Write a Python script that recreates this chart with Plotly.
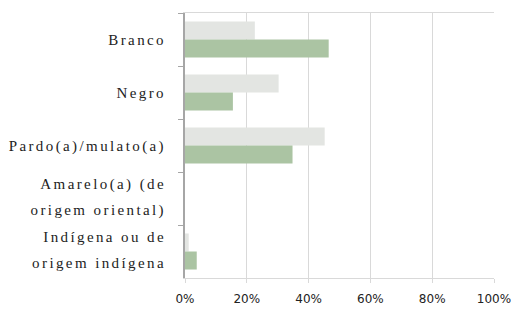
import plotly.graph_objects as go

categories = ["Branco", "Negro", "Pardo(a)/mulato(a)", "Amarelo(a) (de<br>origem oriental)", "Indígena ou de<br>origem indígena"]
series_a = [22.6, 30.3, 45.2, 0.0, 1.2]
series_b = [46.5, 15.5, 34.8, 0.0, 3.8]
x_ticks = [0, 20, 40, 60, 80, 100]
x_ticktext = ["0%", "20%", "40%", "60%", "80%", "100%"]

fig = go.Figure()
fig.add_trace(go.Bar(y=categories, x=series_a, orientation="h",
                     marker=dict(color="#e3e5e2", line=dict(width=0)), name="A"))
fig.add_trace(go.Bar(y=categories, x=series_b, orientation="h",
                     marker=dict(color="#abc4a3", line=dict(width=0)), name="B"))

fig.update_layout(
    width=511, height=310,
    margin=dict(l=185, r=17, t=13, b=32, autoexpand=False),
    paper_bgcolor="white", plot_bgcolor="white",
    barmode="group", bargap=0.32, bargroupgap=0.0,
    showlegend=False,
    xaxis=dict(range=[0, 100], tickvals=x_ticks, ticktext=x_ticktext,
               showgrid=True, gridcolor="#d9d9d9", gridwidth=1,
               showline=True, linecolor="#d9d9d9", linewidth=1, mirror=True,
               ticks="outside", ticklen=4, tickcolor="#d9d9d9",
               tickfont=dict(family="DejaVu Sans", size=12, color="#222"),
               ticklabelstandoff=6, ticklabeloverflow="allow", automargin=False,
               zeroline=False, fixedrange=True),
    yaxis=dict(autorange="reversed", showgrid=False,
               showline=True, linecolor="#a6a6a6", linewidth=2,
               ticks="outside", ticklen=5, tickcolor="#a6a6a6", tickson="boundaries",
               tickfont=dict(family="'Liberation Serif', 'Times New Roman', serif", size=15, color="#222"),
               ticklabelstandoff=14, automargin=False, fixedrange=True),
)

post = (
    "document.body.style.margin='0';document.body.style.padding='0';"
    "document.querySelectorAll('.ytick text').forEach(function(t){"
    "t.style.letterSpacing='2.4px';"
    "var ls=t.querySelectorAll('tspan.line');"
    "if(ls.length>1){ls[0].setAttribute('dy','-0.35em');"
    "for(var i=1;i<ls.length;i++){ls[i].setAttribute('dy','1.42em');}}"
    "});"
)
fig.write_html("out.html", post_script=post, config={"displayModeBar": False})
